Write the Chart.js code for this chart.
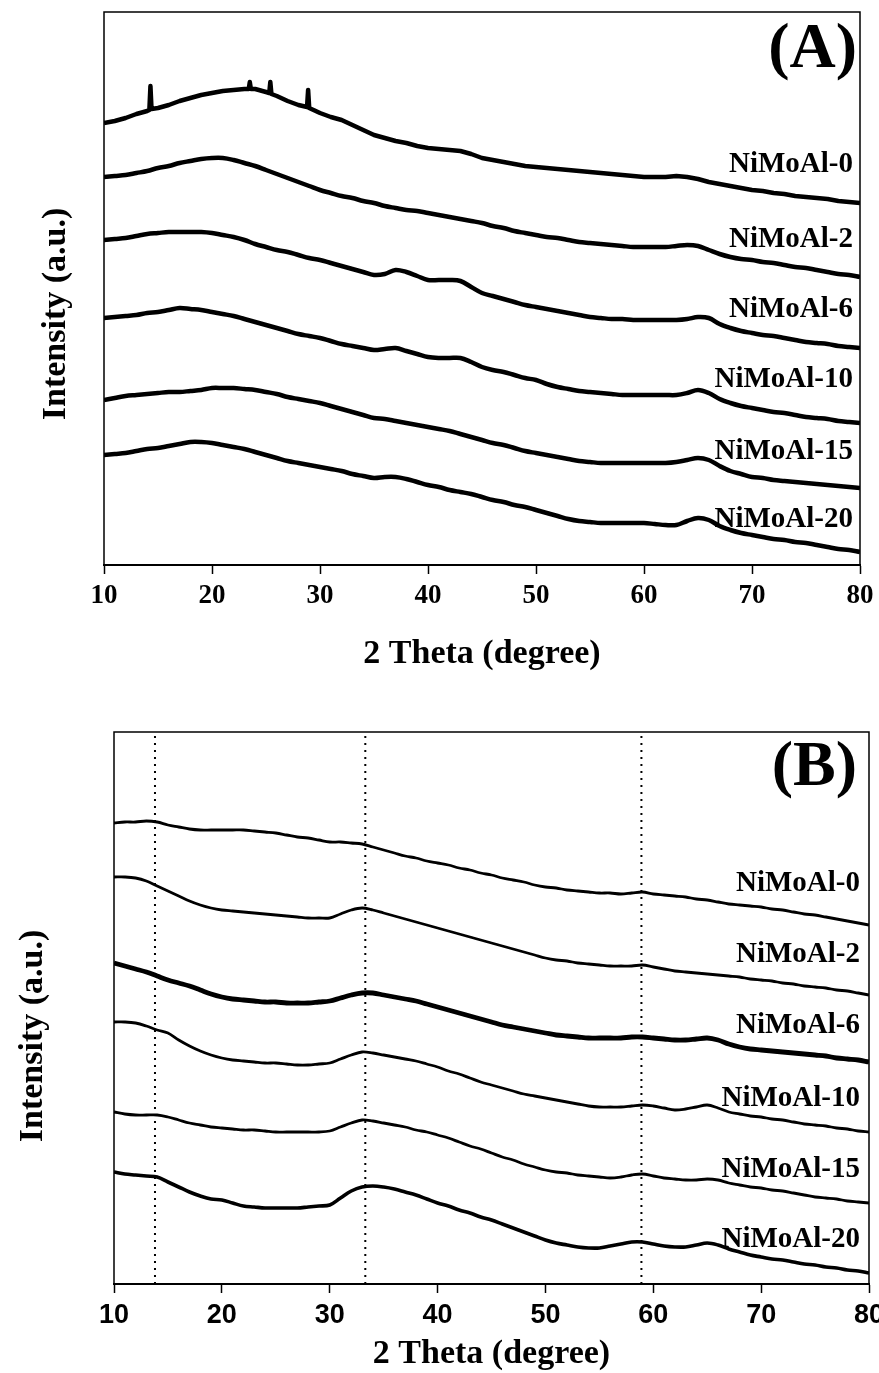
<!DOCTYPE html>
<html>
<head>
<meta charset="utf-8">
<script src="https://cdn.jsdelivr.net/npm/chart.js@4.4.1/dist/chart.umd.min.js"></script>
<style>
  html, body { margin: 0; padding: 0; background: #ffffff; }
  .panel { position: absolute; left: 0; width: 879px; }
</style>
</head>
<body>
<div class="panel" style="top:0;height:690px;"><canvas id="chartA" width="879" height="690"></canvas></div>
<div class="panel" style="top:690px;height:683px;"><canvas id="chartB" width="879" height="683"></canvas></div>
<script>
// ---------- shared x values (2 Theta, degree) ----------
const angles = [10,11,12,13,14,15,16,17,18,19,20,21,22,23,24,25,26,27,28,29,30,31,32,33,34,35,36,37,38,39,40,
  41,42,43,44,45,46,47,48,49,50,51,52,53,54,55,56,57,58,59,60,61,62,63,64,65,66,67,68,69,70,71,72,73,74,75,76,77,78,79,80];
const xTicks = [10,20,30,40,50,60,70,80];
const sampleNames = ['NiMoAl-0','NiMoAl-2','NiMoAl-6','NiMoAl-10','NiMoAl-15','NiMoAl-20'];

// ---------- panel (A) ----------
const anglesA0 = [10,11,12,13,14,14.2,14.3,14.4,15,16,17,18,19,20,21,22,23,23.4,23.5,23.6,24,25,25.3,25.4,25.5,26,27,28,28.8,28.9,29,30,
  31,32,33,34,35,36,37,38,39,40,41,42,43,44,45,46,47,48,49,50,51,52,53,54,55,56,57,58,59,60,61,62,63,64,65,66,67,68,69,70,71,72,73,74,75,76,77,78,79,80];
const intA0 = [442,444,447,451,454,455,479,456,457,460,464,467,470,472,474,475,476,476,483,476,476,473,472,483,471,469,464,460,458,475,457,452,
  448,445,440,435,430,427,424,422,419,417,416,415,414,411,407,405,403,401,399,398,397,396,395,394,393,392,391,390,389,388,388,388,389,388,386,383,381,379,377,375,374,372,371,369,368,367,366,364,363,362];
const intA2 = [388,389,390,392,394,397,399,402,404,406,407,407,405,402,399,395,391,387,383,379,375,372,369,367,364,362,359,357,355,354,352,
  350,348,346,344,342,339,337,334,332,330,328,327,325,323,322,321,320,319,318,318,318,318,319,320,319,315,311,308,306,305,303,302,300,298,297,295,293,291,290,288];
const intA6 = [325,326,327,329,331,332,333,333,333,333,332,330,328,325,321,318,315,313,310,307,305,302,299,296,293,290,291,295,293,289,285,
  285,285,284,278,272,269,266,263,260,258,256,254,252,250,248,247,246,246,245,245,245,245,245,246,248,247,241,237,234,232,230,229,227,225,223,222,221,219,218,217];
const intA10 = [247,248,249,250,252,253,255,257,256,255,253,251,249,246,243,240,237,234,231,229,227,224,221,219,217,215,216,217,214,211,208,
  207,207,207,203,198,195,193,190,187,185,181,178,176,174,173,172,171,170,170,170,170,170,170,172,175,172,166,162,159,157,155,153,152,150,148,147,146,144,143,142];
const intA15 = [165,167,169,170,171,172,173,173,174,175,177,177,177,176,175,173,171,168,166,164,162,159,156,153,150,147,146,144,142,140,138,
  136,134,131,128,125,122,120,117,114,112,110,108,106,104,103,102,102,102,102,102,102,102,103,105,107,105,99,94,91,88,87,85,84,83,82,81,80,79,78,77];
const intA20 = [110,111,112,114,116,117,119,121,123,123,122,120,118,116,113,110,107,104,102,100,98,96,94,91,89,87,88,88,86,83,80,
  78,75,73,71,68,65,63,60,58,55,52,49,46,44,43,42,42,42,42,42,41,40,40,44,47,45,39,35,32,30,28,26,25,23,22,20,18,16,15,13];
const labelValsA = [400,325,255,185,113,45];

// ---------- panel (B) ----------
const intB0 = [461,462,462,463,462,459,457,455,454,454,454,454,454,453,452,451,449,447,446,444,442,442,441,440,437,434,431,428,426,423,421,
  419,416,414,411,409,406,404,402,399,397,396,394,393,392,391,391,390,391,392,390,389,388,387,385,384,382,380,379,378,377,375,374,372,370,369,367,365,363,361,359];
const intB2 = [407,407,406,403,398,393,388,383,379,376,374,373,372,371,370,369,368,367,366,366,366,370,374,376,374,371,368,365,362,359,356,
  353,350,347,344,341,338,335,332,329,326,324,323,321,320,319,318,318,318,319,317,315,313,312,311,310,309,308,307,305,304,303,301,300,298,297,296,294,293,291,289];
const intB6 = [321,318,315,312,308,304,301,298,294,290,287,285,284,283,282,282,281,281,281,282,283,286,289,291,291,289,287,285,283,280,277,
  274,271,268,265,262,259,257,255,253,251,249,248,247,246,246,246,246,247,247,246,245,244,244,245,246,244,240,237,235,234,233,232,231,230,229,228,226,225,224,222];
const intB10 = [262,262,261,258,254,251,244,238,233,229,226,224,223,222,221,221,220,219,219,220,221,225,229,232,231,229,227,225,223,220,217,
  213,210,206,202,199,196,193,190,188,186,184,182,180,178,177,177,177,178,179,178,176,174,175,177,179,176,172,170,168,167,165,164,162,160,159,158,156,155,153,152];
const intB15 = [172,170,169,169,169,167,164,161,159,157,156,155,154,154,153,152,152,152,152,152,153,157,161,164,163,161,159,157,154,152,149,
  146,142,138,135,131,127,124,120,117,114,112,111,109,108,107,106,107,109,110,108,106,105,104,104,105,104,101,99,97,96,94,93,91,89,87,86,85,83,82,81];
const intB20 = [112,110,109,108,107,102,97,92,88,85,84,81,78,77,76,76,76,76,77,78,79,86,93,97,98,97,95,92,89,85,81,
  78,74,71,67,64,60,56,52,48,44,41,39,37,36,36,38,40,42,42,40,38,37,37,39,41,39,35,32,29,27,25,24,22,20,19,17,16,14,13,11];
const refLinesB = [13.8, 33.3, 58.9];
const labelValsB = [400,329,258,185,114,44];

// ---------- helpers ----------
const SERIF = '"Liberation Serif", "Times New Roman", Times, serif';
const SANS = '"Liberation Sans", Arial, Helvetica, sans-serif';
const pts = (xs, ys) => xs.map((x, i) => ({ x: x, y: ys[i] }));

function traceDataset(xs, ys, width, tension) {
  return {
    data: pts(xs, ys),
    borderColor: '#000000',
    borderWidth: width,
    borderJoinStyle: 'round',
    pointRadius: 0,
    fill: false,
    tension: tension,
    order: 1
  };
}

function decorPlugin(cfg) {
  return {
    id: 'decor',
    afterDraw(chart) {
      const { ctx, chartArea: ca, scales } = chart;
      ctx.save();
      // frame (left, top, right)
      ctx.strokeStyle = '#000000';
      ctx.lineWidth = 1.5;
      ctx.beginPath();
      ctx.moveTo(ca.left, ca.bottom);
      ctx.lineTo(ca.left, ca.top);
      ctx.lineTo(ca.right, ca.top);
      ctx.lineTo(ca.right, ca.bottom);
      ctx.stroke();
      // sample labels
      ctx.fillStyle = '#000000';
      ctx.font = 'bold 29px ' + SERIF;
      ctx.textAlign = 'right';
      ctx.textBaseline = 'middle';
      sampleNames.forEach((n, i) => {
        ctx.fillText(n, cfg.labelRight, scales.y.getPixelForValue(cfg.labelVals[i]));
      });
      // panel tag
      ctx.font = 'bold 64px ' + SERIF;
      ctx.fillText(cfg.tag, cfg.tagRight, cfg.tagY);
      // y-axis title
      ctx.translate(cfg.yTitleX, cfg.yTitleY);
      ctx.rotate(-Math.PI / 2);
      ctx.textAlign = 'center';
      ctx.font = 'bold 34px ' + SERIF;
      ctx.fillText('Intensity (a.u.)', 0, 0);
      ctx.restore();
    }
  };
}

function makeOptions(p) {
  return {
    responsive: false,
    animation: false,
    events: [],
    layout: { padding: { left: p.left, right: p.right, top: p.top, bottom: 0 } },
    plugins: { legend: { display: false }, tooltip: { enabled: false } },
    scales: {
      x: {
        type: 'linear',
        min: 10, max: 80,
        afterBuildTicks: s => { s.ticks = xTicks.map(v => ({ value: v })); },
        afterFit: s => { s.height = p.xHeight; s.paddingLeft = 0; s.paddingRight = 0; },
        ticks: {
          color: '#000000',
          font: { family: p.tickFamily, size: 27, weight: 'bold', lineHeight: 1.2 },
          padding: 6,
          maxRotation: 0,
          autoSkip: false
        },
        grid: { display: true, drawOnChartArea: false, drawTicks: true, tickLength: 9, tickColor: '#000000', tickWidth: 1.5, color: '#000000' },
        border: { display: true, color: '#000000', width: 2 },
        title: {
          display: true,
          text: '2 Theta (degree)',
          color: '#000000',
          font: { family: SERIF, size: 34, weight: 'bold', lineHeight: p.titleLH },
          padding: { top: 0, bottom: p.titlePad }
        }
      },
      y: { display: false, min: 0, max: p.yMax }
    }
  };
}

// ---------- chart A ----------
new Chart(document.getElementById('chartA'), {
  type: 'line',
  data: {
    datasets: [
      traceDataset(anglesA0, intA0, 4.5, 0),
      traceDataset(angles, intA2, 4.5, 0.35),
      traceDataset(angles, intA6, 4.5, 0.35),
      traceDataset(angles, intA10, 4.5, 0.35),
      traceDataset(angles, intA15, 4.5, 0.35),
      traceDataset(angles, intA20, 4.5, 0.35)
    ]
  },
  options: makeOptions({ left: 104, right: 19, top: 12, xHeight: 125, yMax: 553, tickFamily: SERIF, titleLH: 1.2, titlePad: 15 }),
  plugins: [decorPlugin({ labelVals: labelValsA, labelRight: 853, tag: '(A)', tagRight: 857, tagY: 50, yTitleX: 56, yTitleY: 314 })]
});

// ---------- chart B ----------
const refDatasets = refLinesB.map(v => ({
  data: [{ x: v, y: 0 }, { x: v, y: 552 }],
  borderColor: '#000000',
  borderWidth: 2,
  borderDash: [2, 5],
  pointRadius: 0,
  fill: false,
  order: 2
}));

new Chart(document.getElementById('chartB'), {
  type: 'line',
  data: {
    datasets: refDatasets.concat([
      traceDataset(angles, intB0, 2.8, 0.35),
      traceDataset(angles, intB2, 2.8, 0.35),
      traceDataset(angles, intB6, 4.8, 0.35),
      traceDataset(angles, intB10, 2.8, 0.35),
      traceDataset(angles, intB15, 2.8, 0.35),
      traceDataset(angles, intB20, 3.6, 0.35)
    ])
  },
  options: makeOptions({ left: 114, right: 10, top: 42, xHeight: 89, yMax: 552, tickFamily: SANS, titleLH: 1.1, titlePad: 0 }),
  plugins: [decorPlugin({ labelVals: labelValsB, labelRight: 860, tag: '(B)', tagRight: 857, tagY: 78, yTitleX: 33, yTitleY: 346 })]
});
</script>
</body>
</html>
